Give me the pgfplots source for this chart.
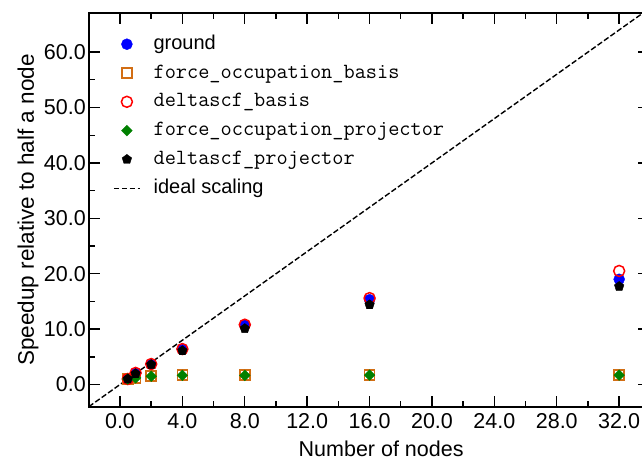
\documentclass[border=0pt]{standalone}
\usepackage{fontspec}
\setmainfont{Liberation Sans}
\usepackage{pgfplots}
\pgfplotsset{compat=1.18}
\definecolor{cblue}{RGB}{0,0,255}
\definecolor{corange}{RGB}{210,110,20}
\definecolor{cred}{RGB}{255,0,0}
\definecolor{cgreen}{RGB}{0,128,0}
\pgfplotsset{
  mylegmark/.style={legend image code/.code={\draw[mark repeat=2,mark phase=2,##1] plot coordinates {(0pt,0pt)(13pt,0pt)(26pt,0pt)};}},
  myleglinestyle/.style={legend image code/.code={\draw[##1] (0pt,0pt) -- (26pt,0pt);}},
}
\begin{document}
\begin{tikzpicture}
\begin{axis}[
  at={(0,0)}, anchor=south west,
  scale only axis, width=560pt, height=393.4pt,
  xmin=-2, xmax=33.9, ymin=-4, ymax=67,
  xtick={0,4,...,32}, ytick={0,10,...,60},
  minor x tick num=1, minor y tick num=1,
  tick align=inside,
  major tick length=11pt, minor tick length=6pt,
  every tick/.style={line width=1.4pt, black},
  axis line style={line width=1.8pt},
  /pgf/number format/assume math mode=true,
  /pgf/number format/.cd, fixed, fixed zerofill, precision=1, /pgfplots/.cd,
  ticklabel style={font=\fontsize{21.5}{25}\selectfont},
  xticklabel style={yshift=-3pt},
  yticklabel style={xshift=0.5pt},
  xlabel={Number of nodes},
  ylabel={Speedup relative to half a node},
  label style={font=\fontsize{21.5}{25}\selectfont},
  xlabel style={at={(axis description cs:0.522,0)}, anchor=base, yshift=-50pt},
  ylabel style={at={(axis description cs:0,0.5)}, anchor=base, rotate=0, xshift=0pt, yshift=55pt, font=\fontsize{22.5}{26}\selectfont},
  legend style={at={(axis description cs:0,1)}, anchor=north west, xshift=24.2pt, yshift=-21.7pt,
    draw=none, fill=none, inner sep=0pt, row sep=10.8pt, column sep=13pt,
    nodes={inner sep=0pt, text height=14pt, text depth=4pt},
    font=\fontsize{20}{24}\selectfont},
  legend cell align=left,
  clip=true,
]
\addplot[only marks, mark=*, mark size=5.5pt, cblue, mark options={draw=cblue, fill=cblue}, mylegmark]
  coordinates {(0.5,1.0) (1,2.0) (2,3.7) (4,6.4) (8,10.7) (16,15.3) (32,19.0)};
\addlegendentry{ground}
\addplot[only marks, mark=square, mark size=5pt, corange, mark options={line width=1.5pt, draw=corange}, mylegmark]
  coordinates {(0.5,1.0) (1,1.2) (2,1.5) (4,1.7) (8,1.75) (16,1.75) (32,1.75)};
\addlegendentry{\fontsize{21.7}{24}\ttfamily force\_occupation\_basis}
\addplot[only marks, mark=o, mark size=5.5pt, cred, mark options={line width=1.5pt, draw=cred}, mylegmark]
  coordinates {(0.5,1.0) (1,2.1) (2,3.7) (4,6.4) (8,10.8) (16,15.6) (32,20.5)};
\addlegendentry{\fontsize{21.7}{24}\ttfamily deltascf\_basis}
\addplot[only marks, mark=square*, mark size=3.8pt, cgreen, mark options={rotate=45, draw=cgreen, fill=cgreen}, mylegmark]
  coordinates {(0.5,1.0) (1,1.2) (2,1.5) (4,1.65) (8,1.65) (16,1.7) (32,1.7)};
\addlegendentry{\fontsize{21.7}{24}\ttfamily force\_occupation\_projector}
\addplot[only marks, mark=pentagon*, mark size=5pt, black, mark options={draw=black, fill=black}, mylegmark]
  coordinates {(0.5,1.0) (1,1.95) (2,3.6) (4,6.1) (8,10.1) (16,14.4) (32,17.7)};
\addlegendentry{\fontsize{21.7}{24}\ttfamily deltascf\_projector}
\addplot[black, line width=1.4pt, dash pattern=on 5.5pt off 2.4pt, myleglinestyle]
  coordinates {(-2,-4) (34,68)};
\addlegendentry{ideal scaling}
\end{axis}
\pgfresetboundingbox
\useasboundingbox (-88.8pt,-54.3pt) rectangle (553.2pt,406.7pt);
\end{tikzpicture}
\end{document}
